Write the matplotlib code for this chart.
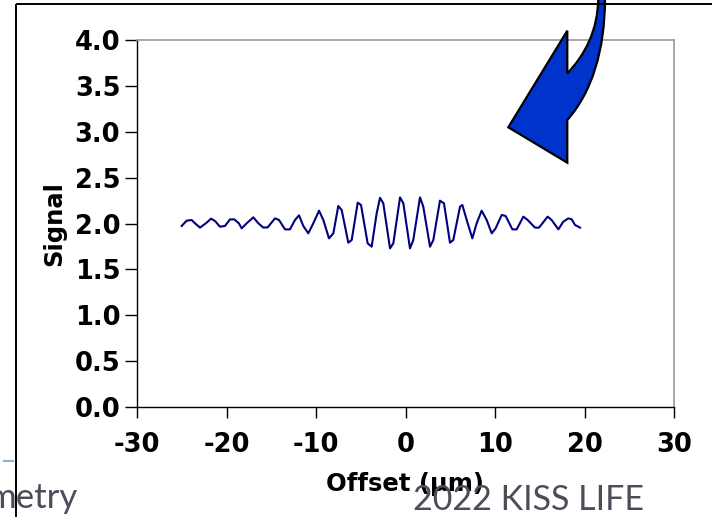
import matplotlib
matplotlib.use('Agg')
import matplotlib.pyplot as plt
from matplotlib.path import Path
from matplotlib.patches import PathPatch

# Fringe signal versus offset
offset_um = [-25.01, -24.45, -23.89, -23.52, -22.96, -22.22, -21.73, -21.28,
             -20.73, -20.17, -19.61, -19.13, -18.62, -18.30, -17.75, -17.00,
             -16.44, -15.89, -15.40, -14.58, -14.13, -13.46, -12.91, -12.35,
             -11.90, -11.42, -10.86, -10.30, -9.66, -9.18, -8.55, -8.06,
             -7.51, -7.13, -6.39, -6.01, -5.34, -4.97, -4.23, -3.78,
             -3.22, -2.85, -2.48, -1.73, -1.36, -0.61, -0.24, 0.50,
             0.87, 1.62, 1.99, 2.74, 3.11, 3.85, 4.30, 4.97,
             5.34, 6.09, 6.35, 6.95, 7.47, 7.95, 8.51, 9.07,
             9.63, 10.07, 10.75, 11.19, 11.94, 12.42, 13.17, 13.65,
             14.47, 14.92, 15.88, 16.33, 17.08, 17.63, 18.19, 18.57,
             18.94, 19.50]
signal = [1.973, 2.031, 2.038, 2.002, 1.955, 2.009, 2.053, 2.027,
          1.965, 1.973, 2.045, 2.045, 2.002, 1.947, 2.002, 2.067,
          2.002, 1.955, 1.958, 2.056, 2.038, 1.936, 1.936, 2.038,
          2.089, 1.973, 1.893, 2.002, 2.140, 2.038, 1.838, 1.893,
          2.191, 2.147, 1.791, 1.820, 2.227, 2.202, 1.784, 1.747,
          2.111, 2.280, 2.220, 1.729, 1.784, 2.285, 2.220, 1.729,
          1.820, 2.285, 2.183, 1.747, 1.820, 2.249, 2.220, 1.791,
          1.820, 2.183, 2.202, 2.002, 1.838, 2.002, 2.140, 2.038,
          1.893, 1.947, 2.093, 2.082, 1.936, 1.936, 2.075, 2.038,
          1.955, 1.955, 2.075, 2.038, 1.936, 2.020, 2.056, 2.045,
          1.984, 1.955]

x_ticks = [-30, -20, -10, 0, 10, 20, 30]
y_ticks = [0.0, 0.5, 1.0, 1.5, 2.0, 2.5, 3.0, 3.5, 4.0]

plt.rcParams['font.family'] = 'DejaVu Sans'

W, H = 712, 517
fig = plt.figure(figsize=(W / 100, H / 100), dpi=100)

ax = fig.add_axes([137 / W, 1 - 407 / H, (674 - 137) / W, (407 - 40) / H])
ax.plot(offset_um, signal, color='#000080', lw=1.5)
ax.set_xlim(-30, 30)
ax.set_ylim(0, 4)
ax.set_xticks(x_ticks)
ax.set_yticks(y_ticks)
ax.set_xticklabels([str(t) for t in x_ticks], fontsize=18.5, fontweight='bold')
ax.set_yticklabels(['%.1f' % t for t in y_ticks], fontsize=18.5, fontweight='bold')
ax.tick_params(axis='y', direction='out', length=9, width=1, pad=3)
ax.tick_params(axis='x', direction='out', length=8, width=1, pad=10)
for side in ['top', 'right']:
    ax.spines[side].set_color('#999999')
    ax.spines[side].set_linewidth(1.2)
for side in ['left', 'bottom']:
    ax.spines[side].set_color('black')
    ax.spines[side].set_linewidth(1)
ax.set_xlabel('Offset (\u00b5m)', fontsize=17.5, fontweight='bold', labelpad=10)
ax.set_ylabel('Signal', fontsize=17.5, fontweight='bold', labelpad=6)

# overlay in pixel units for the slide frame, arrow and footer text
ov = fig.add_axes([0, 0, 1, 1], zorder=5)
ov.set_xlim(0, W)
ov.set_ylim(H, 0)
ov.axis('off')
ov.patch.set_alpha(0)

ov.plot([15.5, W], [3.5, 3.5], color='black', lw=1.4, solid_capstyle='butt')
ov.plot([15.5, 15.5], [3.5, H], color='black', lw=1.4, solid_capstyle='butt')
ov.plot([4, 12.5], [460.7, 460.7], color='#9ab0c8', lw=1.5)

verts = [(598.3, -2), (598, 30), (585, 55), (567.3, 73.3),
         (567.3, 30.7), (508.3, 127.3), (567.3, 162.7), (567.3, 120),
         (592, 92), (605, 50), (605, -2), (598.3, -2)]
codes = [Path.MOVETO, Path.CURVE4, Path.CURVE4, Path.CURVE4,
         Path.LINETO, Path.LINETO, Path.LINETO, Path.LINETO,
         Path.CURVE4, Path.CURVE4, Path.CURVE4, Path.CLOSEPOLY]
ov.add_patch(PathPatch(Path(verts, codes), facecolor='#0033cc',
                       edgecolor='black', lw=1.6, joinstyle='miter'))

ov.text(78, 508, 'metry', fontsize=25, family='Lato',
        color='#4d4d5a', ha='right', va='baseline')
ov.text(413, 510, '2022 KISS LIFE', fontsize=24.5, family='Lato',
        color='#4d4d5a', ha='left', va='baseline')

fig.savefig('out.png', dpi=100)
